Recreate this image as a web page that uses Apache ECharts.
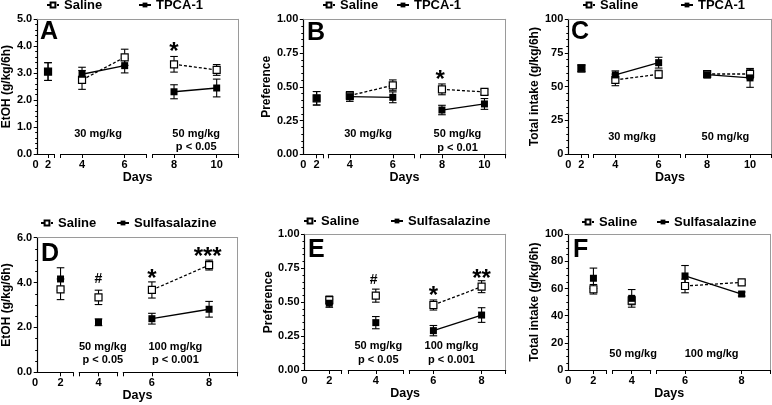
<!DOCTYPE html>
<html><head><meta charset="utf-8">
<script src="https://cdn.jsdelivr.net/npm/echarts@6/dist/echarts.min.js"></script>
<style>html,body{margin:0;padding:0;background:#fff}#c{width:772px;height:405px}</style>
</head><body><div id="c"></div>
<script>
const FONT = '"Liberation Sans", Arial, Helvetica, sans-serif';

// ---------------- DATA ----------------
const daysTop = [2, 4, 6, 8, 10];
const daysBottom = [2, 4, 6, 8];

const A_saline = [3.06, 2.75, 3.59, 3.33, 3.12];
const A_salineErr = [0.33, 0.35, 0.30, 0.29, 0.20];
const A_drug = [3.06, 2.96, 3.28, 2.31, 2.45];
const A_drugErr = [0.33, 0.26, 0.27, 0.26, 0.33];

const B_saline = [0.415, 0.435, 0.511, 0.481, 0.462];
const B_salineErr = [0.05, 0.03, 0.04, 0.04, 0.02];
const B_drug = [0.415, 0.427, 0.422, 0.328, 0.373];
const B_drugErr = [0.05, 0.035, 0.04, 0.035, 0.04];

const C_saline = [63.6, 55.0, 59.2, 59.4, 59.4];
const C_salineErr = [2.5, 4.3, 3.0, 2.3, 3.5];
const C_drug = [63.6, 58.7, 67.8, 58.9, 56.5];
const C_drugErr = [2.5, 3.0, 4.0, 2.5, 7.0];

const D_saline = [3.70, 3.34, 3.67, 4.78];
const D_salineErr = [0.46, 0.32, 0.36, 0.22];
const D_drug = [4.16, 2.23, 2.39, 2.81];
const D_drugErr = [0.50, 0.15, 0.24, 0.35];

const E_saline = [0.515, 0.548, 0.479, 0.614];
const E_salineErr = [0.03, 0.048, 0.037, 0.044];
const E_drug = [0.492, 0.349, 0.290, 0.405];
const E_drugErr = [0.03, 0.045, 0.038, 0.054];

const F_saline = [59.5, 51.1, 61.9, 64.6];
const F_salineErr = [3.5, 3.0, 5.0, 1.5];
const F_drug = [67.6, 52.8, 69.3, 56.0];
const F_drugErr = [7.5, 6.5, 7.7, 1.5];

const groupNames = ['Saline', 'TPCA-1', 'Sulfasalazine'];
const yNames = ['EtOH (g/kg/6h)', 'Preference', 'Total intake (g/kg/6h)'];
const xName = 'Days';
const panelLetters = ['A', 'B', 'C', 'D', 'E', 'F'];
const doseTexts = ['30 mg/kg', '50 mg/kg\np < 0.05', '50 mg/kg\np < 0.01', '50 mg/kg', '100 mg/kg\np < 0.001', '100 mg/kg'];
const sigTexts = ['*', '#', '**', '***'];

// ---------------- LAYOUT ----------------
const FRAME = '#9a9a9a';
const panels = [
  {letter: panelLetters[0], drugName: groupNames[1], days: daysTop, sal: A_saline, salE: A_salineErr, drg: A_drug, drgE: A_drugErr,
   yMin: 0, yMax: 5, yInt: 1, dec: 1, minor: 5, yName: yNames[0], nameGap: 21,
   frame: {l: 35.5, t: 19.3, r: 238, b: 154},
   segs: [{l: 35.5, r: 54.3, min: 0, max: 3, ticks: [2, 3], labels: [0, 2], days: [2]},
          {l: 60.7, r: 146, min: 3, max: 7, ticks: [3, 4, 6, 7], labels: [4, 6], days: [4, 6]},
          {l: 152.7, r: 238, min: 7, max: 11, ticks: [7, 8, 10, 11], labels: [8, 10], days: [8, 10]}],
   legend: {y: 6, sal: 63, drug: 155}, letterPos: {x: 42, y: 25},
   notes: [{seg: 1, x: 4.75, y: 0.74, t: doseTexts[0]}, {seg: 2, x: 9.04, y: 0.5, t: doseTexts[1]}],
   sig: [{seg: 2, x: 8, y: 3.98, t: sigTexts[0]}]},
  {letter: panelLetters[1], drugName: groupNames[1], days: daysTop, sal: B_saline, salE: B_salineErr, drg: B_drug, drgE: B_drugErr,
   yMin: 0, yMax: 1, yInt: 0.25, dec: 2, minor: 5, yName: yNames[1], nameGap: 27,
   frame: {l: 303.3, t: 19.3, r: 505.7, b: 154.3},
   segs: [{l: 303.3, r: 323.3, min: 0, max: 3, ticks: [2, 3], labels: [0, 2], days: [2]},
          {l: 328.3, r: 414.3, min: 3, max: 7, ticks: [3, 4, 6, 7], labels: [4, 6], days: [4, 6]},
          {l: 420.7, r: 505.7, min: 7, max: 11, ticks: [7, 8, 10, 11], labels: [8, 10], days: [8, 10]}],
   legend: {y: 6, sal: 339, drug: 413}, letterPos: {x: 309, y: 26},
   notes: [{seg: 1, x: 4.85, y: 0.15, t: doseTexts[0]}, {seg: 2, x: 8.73, y: 0.1, t: doseTexts[2]}],
   sig: [{seg: 2, x: 7.92, y: 0.595, t: sigTexts[0]}]},
  {letter: panelLetters[2], drugName: groupNames[1], days: daysTop, sal: C_saline, salE: C_salineErr, drg: C_drug, drgE: C_drugErr,
   yMin: 0, yMax: 100, yInt: 25, dec: 0, minor: 5, yName: yNames[2], nameGap: 25,
   frame: {l: 568.3, t: 19.3, r: 771.5, b: 154},
   segs: [{l: 568.3, r: 588, min: 0, max: 3, ticks: [2, 3], labels: [0, 2], days: [2]},
          {l: 593.7, r: 680.3, min: 3, max: 7, ticks: [3, 4, 6, 7], labels: [4, 6], days: [4, 6]},
          {l: 685.7, r: 771.5, min: 7, max: 11, ticks: [7, 8, 10, 11], labels: [8, 10], days: [8, 10]}],
   legend: {y: 6, sal: 599, drug: 697}, letterPos: {x: 573, y: 25},
   notes: [{seg: 1, x: 4.77, y: 12.6, t: doseTexts[0]}, {seg: 2, x: 8.85, y: 12.6, t: doseTexts[3]}],
   sig: []},
  {letter: panelLetters[3], drugName: groupNames[2], days: daysBottom, sal: D_saline, salE: D_salineErr, drg: D_drug, drgE: D_drugErr,
   yMin: 0, yMax: 6, yInt: 2, dec: 1, minor: 4, yName: yNames[0], nameGap: 21,
   frame: {l: 35, t: 237.7, r: 237.7, b: 372.3},
   segs: [{l: 35, r: 73.3, min: 0, max: 3, ticks: [2, 3], labels: [0, 2], days: [2]},
          {l: 79.3, r: 117.7, min: 3.33, max: 4.67, ticks: [3.33, 4, 4.67], labels: [4], days: [4]},
          {l: 123.3, r: 237.7, min: 5, max: 9, ticks: [5, 6, 8, 9], labels: [6, 8], days: [6, 8]}],
   legend: {y: 224, sal: 57, drug: 133}, letterPos: {x: 43, y: 247},
   notes: [{seg: 1, x: 4.15, y: 0.85, t: doseTexts[1]}, {seg: 2, x: 6.82, y: 0.85, t: doseTexts[4]}],
   sig: [{seg: 1, x: 4, y: 4.14, t: sigTexts[1]}, {seg: 2, x: 6, y: 4.39, t: sigTexts[0]}, {seg: 2, x: 7.95, y: 5.41, t: sigTexts[3]}]},
  {letter: panelLetters[4], drugName: groupNames[2], days: daysBottom, sal: E_saline, salE: E_salineErr, drg: E_drug, drgE: E_drugErr,
   yMin: 0, yMax: 1, yInt: 0.25, dec: 2, minor: 5, yName: yNames[1], nameGap: 28,
   frame: {l: 304.5, t: 234.3, r: 505.7, b: 370},
   segs: [{l: 304.5, r: 341.7, min: 0, max: 3, ticks: [2, 3], labels: [0, 2], days: [2]},
          {l: 348.3, r: 403.3, min: 3.33, max: 4.67, ticks: [3.33, 4, 4.67], labels: [4], days: [4]},
          {l: 409.3, r: 505.7, min: 5, max: 9, ticks: [5, 6, 8, 9], labels: [6, 8], days: [6, 8]}],
   legend: {y: 222, sal: 320, drug: 407}, letterPos: {x: 310, y: 243},
   notes: [{seg: 1, x: 4.06, y: 0.125, t: doseTexts[1]}, {seg: 2, x: 6.75, y: 0.125, t: doseTexts[4]}],
   sig: [{seg: 1, x: 3.95, y: 0.66, t: sigTexts[1]}, {seg: 2, x: 6, y: 0.59, t: sigTexts[0]}, {seg: 2, x: 8, y: 0.715, t: sigTexts[2]}]},
  {letter: panelLetters[5], drugName: groupNames[2], days: daysBottom, sal: F_saline, salE: F_salineErr, drg: F_drug, drgE: F_drugErr,
   yMin: 0, yMax: 100, yInt: 20, dec: 0, minor: 4, yName: yNames[2], nameGap: 25,
   frame: {l: 568.3, t: 234.3, r: 770, b: 370},
   segs: [{l: 568.3, r: 606, min: 0, max: 3, ticks: [2, 3], labels: [0, 2], days: [2]},
          {l: 612.7, r: 650.7, min: 3.33, max: 4.67, ticks: [3.33, 4, 4.67], labels: [4], days: [4]},
          {l: 656.7, r: 770, min: 5, max: 9, ticks: [5, 6, 8, 9], labels: [6, 8], days: [6, 8]}],
   legend: {y: 223, sal: 598, drug: 673}, letterPos: {x: 575, y: 243},
   notes: [{seg: 1, x: 4.05, y: 11.8, t: doseTexts[3]}, {seg: 2, x: 6.94, y: 11.8, t: doseTexts[5]}],
   sig: []}
];

// ---------------- BUILD ----------------
const txt = (size, extra) => Object.assign({fontFamily: FONT, fontWeight: 'bold', fontSize: size, color: '#000'}, extra || {});
const option = {animation: false, backgroundColor: '#fff', grid: [], xAxis: [], yAxis: [], series: [], legend: [], title: []};

function errRender(params, api) {
  const x = api.value(0), lo = api.value(1), hi = api.value(2);
  const a = api.coord([x, lo]), b = api.coord([x, hi]);
  const hw = 3.8;
  const style = {stroke: '#000', lineWidth: 1.1};
  return {type: 'group', children: [
    {type: 'line', shape: {x1: a[0], y1: a[1], x2: b[0], y2: b[1]}, style},
    {type: 'line', shape: {x1: a[0] - hw, y1: a[1], x2: a[0] + hw, y2: a[1]}, style},
    {type: 'line', shape: {x1: b[0] - hw, y1: b[1], x2: b[0] + hw, y2: b[1]}, style}
  ]};
}

panels.forEach((p) => {
  const f = p.frame, H = f.b - f.t;
  const salName = groupNames[0] + '|' + p.letter;
  const drgName = p.drugName + '|' + p.letter;
  // frame grid
  const gi = option.grid.length;
  option.grid.push({left: f.l, top: f.t, width: f.r - f.l, height: H});
  option.xAxis.push({gridIndex: gi, type: 'value', position: 'top', min: 0, max: 1,
    axisLine: {show: true, onZero: false, lineStyle: {color: FRAME, width: 1}}, axisTick: {show: false}, axisLabel: {show: false}, splitLine: {show: false}});
  option.xAxis.push({gridIndex: gi, type: 'value', position: 'bottom', min: 0, max: 1,
    axisLine: {show: false}, axisTick: {show: false}, axisLabel: {show: false}, splitLine: {show: false},
    name: xName, nameLocation: 'middle', nameGap: 17, nameTextStyle: txt(12.5)});
  option.yAxis.push({gridIndex: gi, type: 'value', position: 'left', min: p.yMin, max: p.yMax, interval: p.yInt,
    axisLine: {show: true, onZero: false, lineStyle: {color: '#000', width: 1.2}},
    axisTick: {show: true, length: 3.5, lineStyle: {color: '#000', width: 1}},
    minorTick: {show: true, splitNumber: p.minor, length: 2, lineStyle: {color: '#000', width: 1}},
    axisLabel: Object.assign(txt(11), {margin: 5, formatter: (v) => v.toFixed(p.dec)}),
    splitLine: {show: false}, minorSplitLine: {show: false},
    name: p.yName, nameLocation: 'middle', nameGap: p.nameGap, nameTextStyle: txt(12)});
  option.yAxis.push({gridIndex: gi, type: 'value', position: 'right', min: p.yMin, max: p.yMax,
    axisLine: {show: true, onZero: false, lineStyle: {color: FRAME, width: 1}}, axisTick: {show: false}, axisLabel: {show: false}, splitLine: {show: false}});

  // segments
  p.segs.forEach((s, si) => {
    const g = option.grid.length;
    option.grid.push({left: s.l, top: f.t, width: s.r - s.l, height: H});
    const xi = option.xAxis.length, yi = option.yAxis.length;
    option.xAxis.push({gridIndex: g, type: 'value', min: s.min, max: s.max,
      axisLine: {show: true, onZero: false, lineStyle: {color: '#000', width: 1.2}},
      axisTick: {show: true, length: 4, customValues: s.ticks, lineStyle: {color: '#000', width: 1}},
      axisLabel: Object.assign(txt(11), {margin: 5, customValues: s.labels, formatter: (v) => String(Math.round(v))}),
      splitLine: {show: false}});
    option.yAxis.push({gridIndex: g, type: 'value', show: false, min: p.yMin, max: p.yMax, splitLine: {show: false}});

    const idx = p.days.map((d, i) => i).filter((i) => s.days.indexOf(p.days[i]) >= 0);
    const base = {xAxisIndex: xi, yAxisIndex: yi, silent: true, emphasis: {disabled: true}};
    // error bars
    option.series.push(Object.assign({type: 'custom', renderItem: errRender, z: 1,
      data: idx.map((i) => [p.days[i], p.sal[i] - p.salE[i], p.sal[i] + p.salE[i]])
        .concat(idx.map((i) => [p.days[i], p.drg[i] - p.drgE[i], p.drg[i] + p.drgE[i]]))}, base));
    // saline
    option.series.push(Object.assign({type: 'line', name: salName, z: 2, symbol: 'rect', symbolSize: 7, showSymbol: true,
      lineStyle: {color: '#000', width: 1.3, type: [3, 2]},
      itemStyle: {color: '#fff', borderColor: '#000', borderWidth: 1.2},
      data: idx.map((i) => [p.days[i], p.sal[i]])}, base));
    // drug
    option.series.push(Object.assign({type: 'line', name: drgName, z: 3, symbol: 'rect', symbolSize: 7, showSymbol: true,
      lineStyle: {color: '#000', width: 1.3, type: 'solid'},
      itemStyle: {color: '#000', borderColor: '#000', borderWidth: 0},
      data: idx.map((i) => [p.days[i], p.drg[i]])}, base));
    // annotations
    const noteStyle = {color: '#000', opacity: 0};
    p.notes.filter((n) => n.seg === si).forEach((n) => {
      option.series.push(Object.assign({type: 'scatter', z: 4, symbolSize: 1, itemStyle: {color: 'rgba(0,0,0,0)', opacity: 1},
        label: Object.assign(txt(11), {show: true, position: 'inside', lineHeight: 13.5, align: 'center', formatter: n.t, opacity: 1}),
        data: [[n.x, n.y]]}, base));
    });
    p.sig.filter((n) => n.seg === si).forEach((n) => {
      const isStar = n.t.indexOf('*') >= 0;
      const fs = isStar ? 24 : 14;
      option.series.push(Object.assign({type: 'scatter', z: 4, symbolSize: 1, itemStyle: {color: 'rgba(0,0,0,0)', opacity: 1},
        label: Object.assign(txt(fs), {show: true, position: 'inside', offset: [0, isStar ? 6 : 0], formatter: n.t, opacity: 1}),
        data: [[n.x, n.y]]}, base));
    });
  });

  // legends
  const lg = (name, textLeft) => ({data: [name], left: textLeft - 17, top: p.legend.y - 7.5, padding: 0,
    itemWidth: 12, itemHeight: 6, selectedMode: false, textStyle: txt(13),
    formatter: (nm) => nm.split('|')[0]});
  option.legend.push(lg(salName, p.legend.sal));
  option.legend.push(lg(drgName, p.legend.drug));

  // panel letter
  option.title.push({text: p.letter, left: p.letterPos.x - 2, top: p.letterPos.y - 5, padding: 0,
    textStyle: txt(25)});
});

const chart = echarts.init(document.getElementById('c'), null, {renderer: 'canvas'});
chart.setOption(option);
</script></body></html>
